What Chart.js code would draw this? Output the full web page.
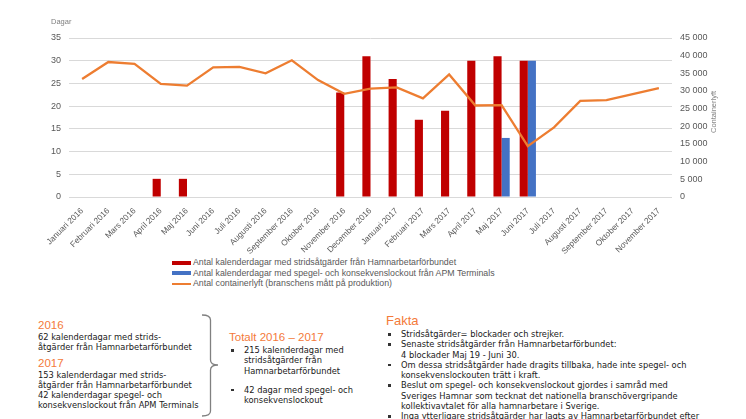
<!DOCTYPE html>
<html>
<head>
<meta charset="utf-8">
<script src="https://cdn.jsdelivr.net/npm/chart.js@4"></script>
<style>
  body { margin: 0; background: #fff; width: 746px; height: 419px; overflow: hidden; position: relative; }
  #wrap { position: absolute; left: 0; top: 0; width: 746px; height: 255px; }
  .abs { position: absolute; white-space: nowrap; }
  .axt { font-family: "Liberation Sans", Arial, sans-serif; font-size: 7.5px; color: #7f7f7f; }
  .leg { font-family: "Liberation Sans", Arial, sans-serif; font-size: 8.8px; color: #595959; line-height: 10.5px; }
  .sw { position: absolute; width: 19px; }
  .orange { color: #f47a3a; }
  .body { font-family: "DejaVu Sans", Verdana, sans-serif; font-size: 8.3px; color: #1a1a1a; line-height: 10.3px; }
  .bl { position: relative; padding-left: 14px; }
  .bl:before { content: ""; position: absolute; left: 1px; top: 4px; width: 2.5px; height: 2.5px; background: #333; }
</style>
</head>
<body>
<div id="wrap"><canvas id="lineChart"></canvas></div>

<div class="abs axt" style="left:51px; top:17px;">Dagar</div>
<div class="abs axt" style="left:694px; top:108px; transform: rotate(-90deg); transform-origin: 20px 5px;">Containerlyft</div>

<div class="abs leg" style="left:172px; top:257px;">
  <div class="sw" style="left:0; top:3.5px; height:4px; background:#c00000;"></div>
  <div class="sw" style="left:0; top:14px; height:4px; background:#4472c4;"></div>
  <div class="sw" style="left:0; top:25.5px; height:2px; background:#ed7d31;"></div>
  <div style="padding-left:21px;">Antal kalenderdagar med stridsåtgärder från Hamnarbetarförbundet</div>
  <div style="padding-left:21px;">Antal kalenderdagar med spegel- och konsekvenslockout från APM Terminals</div>
  <div style="padding-left:21px;">Antal containerlyft (branschens mått på produktion)</div>
</div>

<div class="abs" style="left:38px; top:319px;">
  <div class="orange" style="font-family:'Liberation Sans',Arial,sans-serif; font-size:11.5px; line-height:13px;">2016</div>
  <div class="body">62 kalenderdagar med strids-<br>åtgärder från Hamnarbetarförbundet</div>
  <div class="orange" style="font-family:'Liberation Sans',Arial,sans-serif; font-size:11.5px; line-height:13px; margin-top:4px;">2017</div>
  <div class="body">153 kalenderdagar med strids-<br>åtgärder från Hamnarbetarförbundet<br>42 kalenderdagar spegel- och<br>konsekvenslockout från APM Terminals</div>
</div>

<svg class="abs" style="left:0; top:300px;" width="240" height="119">
  <path d="M202 15 Q210.5 15 210.5 20 L210.5 60 Q210.5 65 218 65 Q210.5 65 210.5 70 L210.5 111 Q210.5 116 202 116" fill="none" stroke="#808080" stroke-width="1.3"/>
</svg>

<div class="abs" style="left:229px; top:331px;">
  <div class="orange" style="font-family:'Liberation Sans',Arial,sans-serif; font-size:11.5px; line-height:13px;">Totalt 2016 – 2017</div>
  <div class="body" style="margin-left:1px; margin-top:1px;">
    <div class="bl">215 kalenderdagar med<br>stridsåtgärder från<br>Hamnarbetarförbundet</div>
    <div class="bl" style="margin-top:9px;">42 dagar med spegel- och<br>konsekvenslockout</div>
  </div>
</div>

<div class="abs" style="left:386px; top:314px;">
  <div class="orange" style="font-family:'Liberation Sans',Arial,sans-serif; font-size:13px; line-height:14px;">Fakta</div>
  <div class="body" style="margin-left:1px; margin-top:1px;">
    <div class="bl">Stridsåtgärder= blockader och strejker.</div>
    <div class="bl">Senaste stridsåtgärder från Hamnarbetarförbundet:<br>4 blockader Maj 19 - Juni 30.</div>
    <div class="bl">Om dessa stridsåtgärder hade dragits tillbaka, hade inte spegel- och<br>konsekvenslockouten trätt i kraft.</div>
    <div class="bl">Beslut om spegel- och konsekvenslockout gjordes i samråd med<br>Sveriges Hamnar som tecknat det nationella branschövergripande<br>kollektivavtalet för alla hamnarbetare i Sverige.</div>
    <div class="bl">Inga ytterligare stridsåtgärder har lagts av Hamnarbetarförbundet efter</div>
  </div>
</div>

<script>
// Months on the x axis
var months = ['Januari 2016', 'Februari 2016', 'Mars 2016', 'April 2016', 'Maj 2016', 'Juni 2016',
    'Juli 2016', 'Augusti 2016', 'September 2016', 'Oktober 2016', 'November 2016', 'December 2016',
    'Januari 2017', 'Februari 2017', 'Mars 2017', 'April 2017', 'Maj 2017', 'Juni 2017',
    'Juli 2017', 'Augusti 2017', 'September 2017', 'Oktober 2017', 'November 2017'];

// Days with strike actions (Hamnarbetarförbundet)
var strikeDays = [0, 0, 0, 4, 4, 0, 0, 0, 0, 0, 23, 31, 26, 17, 19, 30, 31, 30, 0, 0, 0, 0, 0];
// Days with lockout (APM Terminals)
var lockoutDays = [0, 0, 0, 0, 0, 0, 0, 0, 0, 0, 0, 0, 0, 0, 0, 0, 13, 30, 0, 0, 0, 0, 0];
// Container lifts per month
var containerLifts = [33400, 38200, 37700, 32000, 31500, 36700, 36800, 35000, 38700, 33100, 29200, 30700,
    31000, 27900, 34700, 25900, 26000, 14400, 19700, 27200, 27400, 29100, 30800];

var seriesLabels = ['Antal kalenderdagar med stridsåtgärder från Hamnarbetarförbundet',
    'Antal kalenderdagar med spegel- och konsekvenslockout från APM Terminals',
    'Antal containerlyft (branschens mått på produktion)'];

var tickFont = { family: 'Liberation Sans', size: 9 };

var ctx = document.getElementById('lineChart').getContext('2d');
var lineChart = new Chart(ctx, {
    data: {
        labels: months,
        datasets: [
            {
                type: 'line',
                label: seriesLabels[2],
                data: containerLifts,
                yAxisID: 'yRight',
                borderColor: '#ed7d31',
                borderWidth: 2.3,
                pointRadius: 0,
                tension: 0,
                fill: false,
                order: 0
            },
            {
                type: 'bar',
                label: seriesLabels[0],
                data: strikeDays,
                yAxisID: 'y',
                backgroundColor: '#c00000',
                barPercentage: 1,
                categoryPercentage: 0.62,
                order: 1
            },
            {
                type: 'bar',
                label: seriesLabels[1],
                data: lockoutDays,
                yAxisID: 'y',
                backgroundColor: '#4472c4',
                barPercentage: 1,
                categoryPercentage: 0.62,
                order: 1
            }
        ]
    },
    options: {
        responsive: true,
        maintainAspectRatio: false,
        animation: false,
        layout: { padding: { top: 38, left: 0, right: 0, bottom: 0 } },
        plugins: { legend: { display: false }, tooltip: { enabled: false } },
        scales: {
            x: {
                grid: { display: false },
                border: { display: false },
                ticks: { color: '#595959', font: { family: 'Liberation Sans', size: 8.3 }, minRotation: 45, maxRotation: 45, padding: 1 },
                afterFit: function (scale) { scale.height = 58; }
            },
            y: {
                position: 'left',
                min: 0,
                max: 35,
                ticks: { stepSize: 5, color: '#595959', font: tickFont, padding: 8 },
                grid: { color: '#d9d9d9', lineWidth: 1, drawTicks: false },
                border: { display: false },
                afterFit: function (scale) { scale.width = 69; }
            },
            yRight: {
                position: 'right',
                min: 0,
                max: 45000,
                ticks: {
                    stepSize: 5000, color: '#595959', font: tickFont, padding: 8,
                    callback: function (v) { return String(v).replace(/\B(?=(\d{3})+(?!\d))/g, ' '); }
                },
                grid: { drawOnChartArea: false, drawTicks: false },
                border: { display: false },
                afterFit: function (scale) { scale.width = 74; }
            }
        }
    }
});
</script>
</body>
</html>
